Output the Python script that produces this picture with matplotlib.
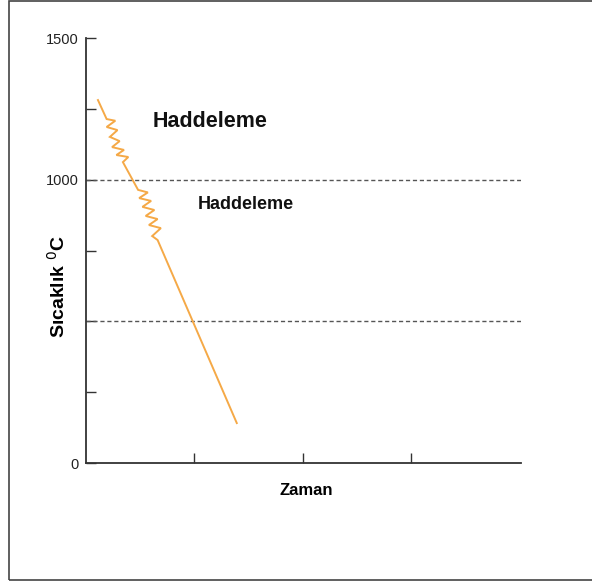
import matplotlib
matplotlib.use("Agg")
import matplotlib.pyplot as plt
from matplotlib.patches import Rectangle

# cooling path with two rolling (zigzag) passes
path_x = [0.11, 0.19, 0.27, 0.19, 0.29, 0.22, 0.31, 0.24, 0.35, 0.28, 0.39, 0.34,
          0.48, 0.57, 0.49, 0.60, 0.52, 0.63, 0.55, 0.66, 0.58, 0.69, 0.61, 0.66, 1.39]
path_y = [1281, 1214, 1208, 1186, 1175, 1151, 1136, 1115, 1105, 1087, 1080, 1062,
          964, 955, 935, 925, 904, 893, 872, 861, 840, 829, 801, 787, 141]

ref_levels = [1000, 500]
y_ticks = [0, 250, 500, 750, 1000, 1250, 1500]
y_tick_labels = ["0", "", "", "", "1000", "", "1500"]
x_ticks = [1, 2, 3]

plt.rcParams["font.family"] = ["Liberation Sans", "DejaVu Sans"]

fig = plt.figure(figsize=(5.92, 5.83), dpi=100)
ax = fig.add_axes([0.1453, 0.2058, 0.7347, 0.729])

for lvl in ref_levels:
    ax.plot([0, 4.01], [lvl, lvl], color="#555555", lw=1.0, dashes=(3, 2))

ax.plot(path_x, path_y, color="#F5A947", lw=1.4, solid_joinstyle="miter")

ax.text(0.615, 1187, "Haddeleme", fontsize=15.5, fontweight="bold", color="#111111",
        ha="left", va="baseline")
ax.text(1.03, 896, "Haddeleme", fontsize=13, fontweight="bold", color="#111111",
        ha="left", va="baseline")

ax.set_xlim(0, 4.01)
ax.set_ylim(0, 1500)
ax.set_xticks(x_ticks)
ax.set_xticklabels([])
ax.set_yticks(y_ticks)
ax.set_yticklabels(y_tick_labels)
ax.tick_params(axis="both", direction="in", length=7, width=1.0, color="#333333",
               labelsize=10.5, labelcolor="#222222", pad=5)

for side in ["top", "right"]:
    ax.spines[side].set_visible(False)
for side in ["left", "bottom"]:
    ax.spines[side].set_color("#333333")
    ax.spines[side].set_linewidth(1.3)

fig.text(0.517, 0.151, "Zaman", fontsize=12, fontweight="bold", ha="center", va="baseline")
fig.text(0.098, 0.508, "Sıcaklık $^{0}$C", fontsize=14, fontweight="bold", rotation=90,
         ha="center", va="center")

# outer frame
fig.add_artist(Rectangle((0.0152, 0.005), 1.0, 0.993, transform=fig.transFigure,
                         fill=False, edgecolor="#444444", lw=1.2))

fig.savefig("out.png", dpi=100)
